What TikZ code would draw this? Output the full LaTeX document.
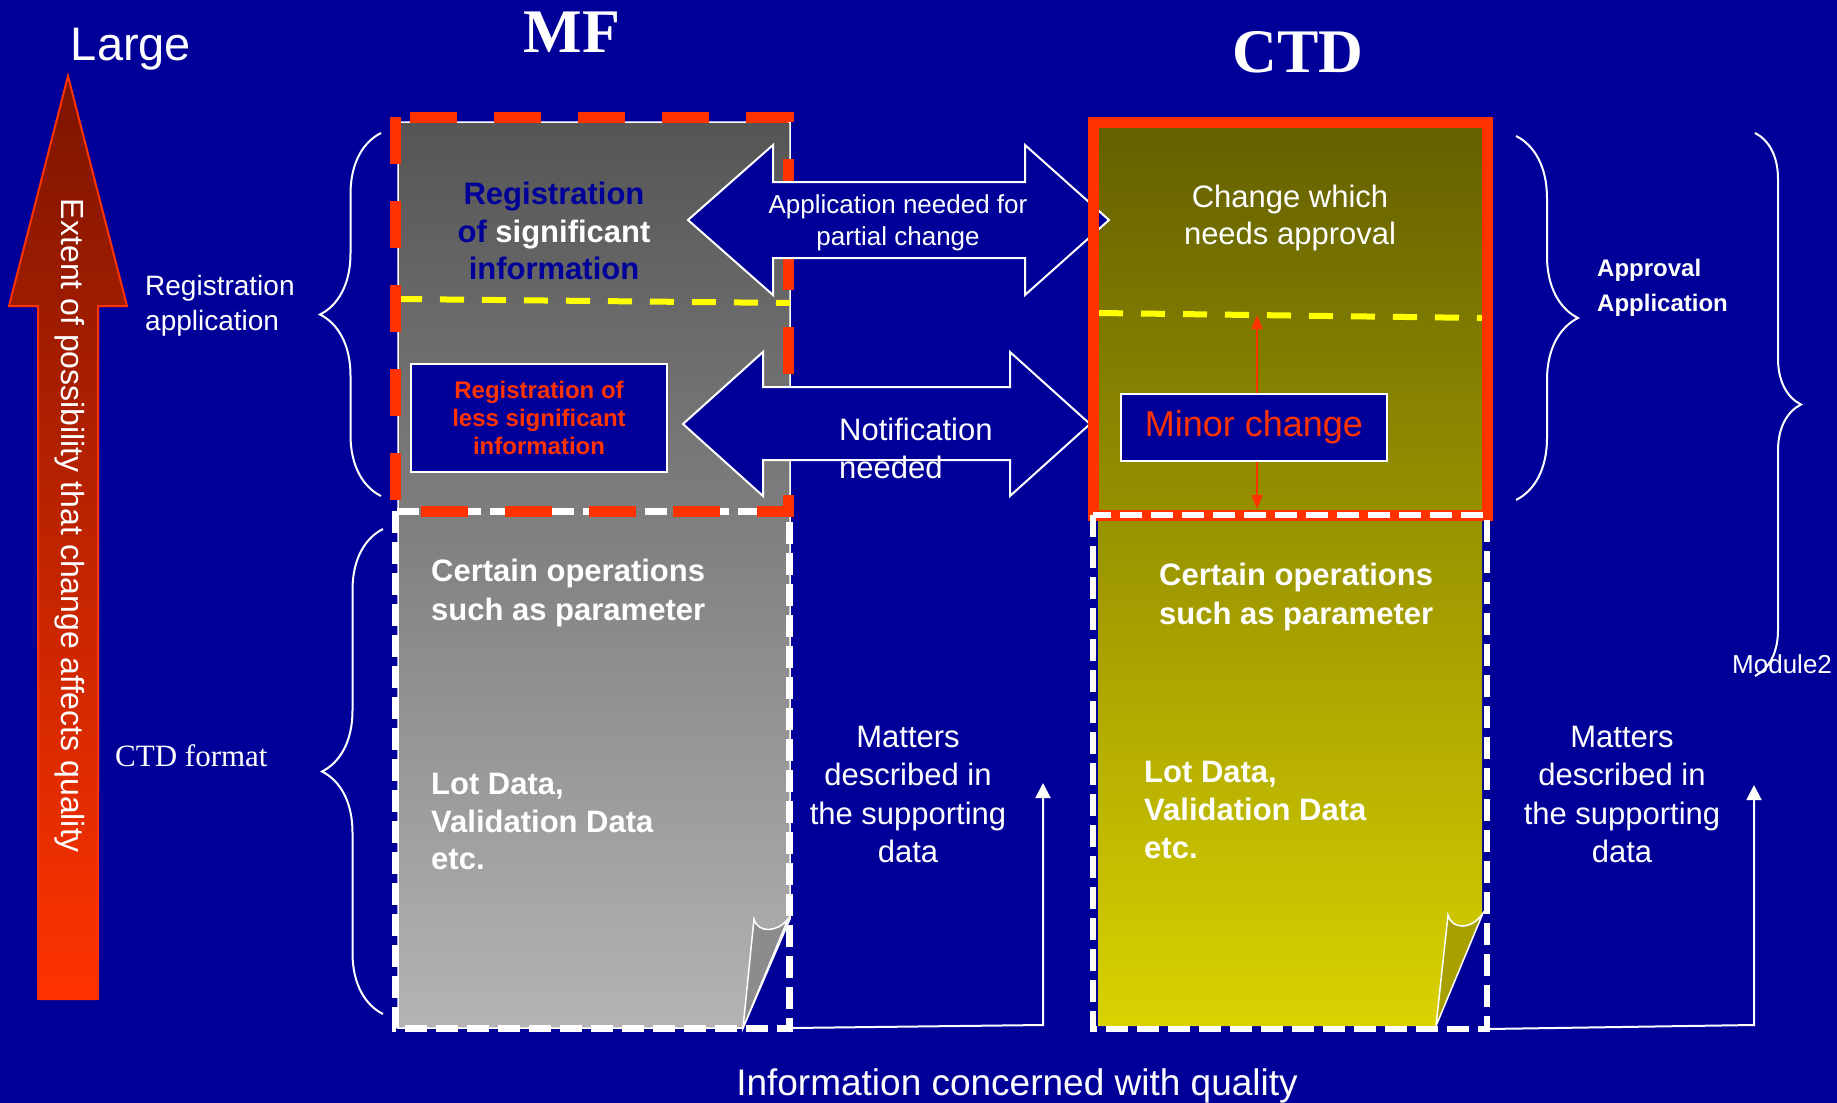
\documentclass[tikz,border=0pt]{standalone}
\usepackage{fontspec}
\setmainfont{Liberation Sans}
\newfontfamily\timesfont{Liberation Serif}
\usetikzlibrary{arrows.meta,decorations.pathreplacing}
\definecolor{bgblue}{RGB}{0,0,153}
\definecolor{redor}{RGB}{255,51,0}
\definecolor{darkred}{RGB}{125,20,0}
\definecolor{yel}{RGB}{255,255,0}
\definecolor{olivetop}{RGB}{100,96,0}
\definecolor{olivebot}{RGB}{218,210,0}
\definecolor{olivefold}{RGB}{168,160,0}
\definecolor{graytop}{RGB}{85,85,85}
\definecolor{graybot}{RGB}{180,180,180}
\definecolor{grayfold}{RGB}{140,140,140}
\newcommand{\fs}[2]{\fontsize{#1}{#2}\selectfont}
\tikzset{%
    txt/.style={text=white, inner sep=0pt},
    curly/.style={draw=white, line width=2pt, decorate,
    	decoration={brace, amplitude=#1}},
    bigarrow/.style={draw=white, line width=2pt, fill=bgblue},
    reddash/.style={draw=redor, line width=11pt, dash pattern=on 47pt off 37pt},
    whitedash/.style={draw=white, line width=7pt, dash pattern=on 22pt off 9pt},
    yeldash/.style={draw=yel, line width=6pt, dash pattern=on 24pt off 18pt},
    redbox/.style={draw=white, line width=2pt, fill=bgblue, text=redor, inner sep=0pt},
    mattersarrow/.style={-{Triangle[length=15pt,width=15pt]}, white, line width=2pt},
    minorarrow/.style={-{Triangle[length=14pt,width=11pt]}, redor, line width=2pt}
}
\begin{document}
\begin{tikzpicture}[x=1pt, y=-1pt]
  \useasboundingbox (0,0) rectangle (1837,1103);
  \fill[bgblue] (0,0) rectangle (1837,1103);
  \path[draw=redor, line width=2pt, top color=darkred, bottom color=redor]
    (68,76) -- (127,306) -- (98,306) -- (98,999) -- (38,999) -- (38,306) -- (9,306) -- cycle;

  \path[draw=white, line width=1.5pt, top color=graytop, bottom color=graybot]
    (398,122) -- (790,122) -- (790,919) -- (743,1028) -- (398,1028) -- cycle;
  \filldraw[fill=grayfold, draw=white, line width=1.5pt]
    (754,919) .. controls (758,934) and (778,932) .. (788,919) -- (743,1028) -- cycle;
  \path[top color=olivetop, bottom color=olivebot]
    (1098,128) -- (1482,128) -- (1482,913) -- (1436,1026) -- (1098,1026) -- cycle;
  \filldraw[fill=olivefold, draw=white, line width=1.5pt]
    (1448,915) .. controls (1452,930) and (1472,930) .. (1483,913) -- (1436,1026) -- cycle;

  \draw[yeldash] (398,299) -- (790,303);
  \draw[yeldash] (1099,313) -- (1482,318);
  \draw[whitedash] (395,511) rectangle (789,1028);
  \draw[reddash] (395,117) rectangle (788,511);

  \draw[bigarrow] (688,220) -- (773,145) -- (773,182) -- (1025,182) -- (1025,145) -- (1109,220)
    -- (1025,295) -- (1025,258) -- (773,258) -- (773,295) -- cycle;
  \draw[bigarrow] (683,424) -- (763,352) -- (763,387) -- (1010,387) -- (1010,352) -- (1090,424)
    -- (1010,496) -- (1010,460) -- (763,460) -- (763,496) -- cycle;

  \draw[redor, line width=11pt] (1093,122) rectangle (1487,515);
  \draw[whitedash, line width=6pt] (1093,515) rectangle (1487,1029);

  \draw[curly=61pt] (381,496) -- (381,133);
  \draw[curly=61pt] (383,1014) -- (383,529);
  \draw[curly=62pt] (1516,136) -- (1516,500);
  \draw[curly=46pt] (1755,133) -- (1755,676);

  \node (large) [txt, anchor=base, font=\fs{47}{56}] at (131,60) {Large};
  \node (mf) [txt, anchor=base, font=\timesfont\bfseries\fs{62}{70}] at (572,52) {MF};
  \node (ctd) [txt, anchor=base, font=\timesfont\bfseries\fs{62}{70}] at (1298,72) {CTD};
  \node (extent) [txt, rotate=-90, font=\fs{32}{38}] at (70,526)
    {Extent of possibility that change affects quality};
  \node (regapp) [txt, anchor=north west, align=left, font=\fs{28}{35}] at (145,275)
    {Registration\\application};
  \node (ctdformat) [txt, anchor=base west, font=\timesfont\fs{31}{36}] at (115,766) {CTD format};
  \node (approval) [txt, anchor=north west, align=left, font=\bfseries\fs{24}{35}] at (1597,259)
    {Approval\\Application};
  \node (module) [txt, anchor=base west, font=\fs{26}{30}] at (1732,673) {Module2};

  \node (significant) [txt, anchor=north, align=center, font=\bfseries\fs{31}{37.5}] at (554,182)
    {\textcolor{bgblue}{Registration}\\\textcolor{bgblue}{of} significant\\\textcolor{bgblue}{information}};
  \node (less) [redbox, minimum width=256pt, minimum height=108pt, align=center,
    font=\bfseries\fs{24}{28}] at (539,418) {Registration of\\less significant\\information};
  \node (partial) [txt, anchor=north, align=center, font=\fs{26}{32}] at (898,194)
    {Application needed for\\partial change};
  \node (notif) [txt, anchor=north west, align=left, font=\fs{31}{38}] at (839,418)
    {Notification\\needed};
  \node (approvalchange) [txt, anchor=north, align=center, font=\fs{31}{37}] at (1290,185)
    {Change which\\needs approval};
  \node (minor) [redbox, minimum width=266pt, minimum height=67pt, font=\fs{36}{40}]
    at (1254,427.5) {Minor change};

  \node (mfops) [txt, anchor=north west, align=left, font=\bfseries\fs{31}{39}] at (431,559)
    {Certain operations\\such as parameter};
  \node (mflot) [txt, anchor=north west, align=left, font=\bfseries\fs{31}{37.5}] at (431,773)
    {Lot Data,\\Validation Data\\etc.};
  \node (ctdops) [txt, anchor=north west, align=left, font=\bfseries\fs{31}{39}] at (1159,563)
    {Certain operations\\such as parameter};
  \node (ctdlot) [txt, anchor=north west, align=left, font=\bfseries\fs{31}{38}] at (1144,761)
    {Lot Data,\\Validation Data\\etc.};
  \node (mfmatters) [txt, anchor=north, align=center, font=\fs{31}{38.3}] at (908,726)
    {Matters\\described in\\the supporting\\data};
  \node (ctdmatters) [txt, anchor=north, align=center, font=\fs{31}{38.3}] at (1622,726)
    {Matters\\described in\\the supporting\\data};
  \node (info) [txt, anchor=base, font=\fs{37}{44}] at (1017,1095)
    {Information concerned with quality};

  \coordinate (minortop) at (1257,315);
  \coordinate (minorbot) at (1257,509);
  \draw[minorarrow] ([xshift=3pt]minor.north) -- (minortop);
  \draw[minorarrow] ([xshift=3pt]minor.south) -- (minorbot);

  \coordinate (mfcorner) at (791,1028);
  \coordinate (mfbend) at (1043,1025);
  \coordinate (mftop) at (1043,783);
  \draw[mattersarrow] (mfcorner) -- (mfbend) -- (mftop);
  \coordinate (ctdcorner) at (1488,1029);
  \coordinate (ctdbend) at (1754,1025);
  \coordinate (ctdtop) at (1754,785);
  \draw[mattersarrow] (ctdcorner) -- (ctdbend) -- (ctdtop);
\end{tikzpicture}
\end{document}
